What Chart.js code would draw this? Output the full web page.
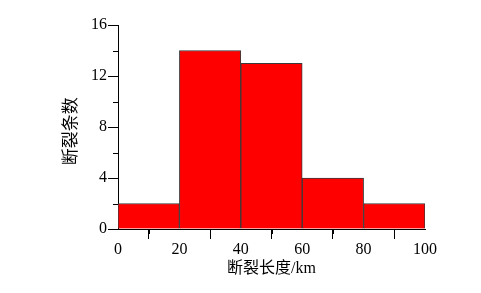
<!DOCTYPE html>
<html>
<head>
<meta charset="utf-8">
<script src="https://cdn.jsdelivr.net/npm/chart.js@4"></script>
<style>
    html, body { margin: 0; padding: 0; background: #fff; }
    canvas { display: block; }
</style>
</head>
<body>
<canvas id="histChart" width="481" height="293"></canvas>
<script>
const binEdges = [0, 20, 40, 60, 80, 100];
const counts = [2, 14, 13, 4, 2];
const xTitle = '断裂长度/km';
const yTitle = '断裂条数\u2002';

const FONT = '"Liberation Serif", "Times New Roman", "Noto Sans CJK SC", serif';

// bar centres from the bin edges
const points = counts.map((c, i) => ({ x: (binEdges[i] + binEdges[i + 1]) / 2, y: c }));

// short ticks halfway between the labelled ones
const minorTicks = {
    id: 'minorTicks',
    afterDraw(chart) {
        const ctx = chart.ctx;
        const x = chart.scales.x;
        const y = chart.scales.y;
        ctx.save();
        ctx.strokeStyle = '#000';
        ctx.lineWidth = 1;
        ctx.beginPath();
        for (let v = 10; v < 100; v += 20) {
            const px = Math.round(x.getPixelForValue(v)) + 0.5;
            ctx.moveTo(px, x.top);
            ctx.lineTo(px, x.top + 5);
        }
        for (let v = 2; v < 16; v += 4) {
            const py = Math.round(y.getPixelForValue(v)) + 0.5;
            ctx.moveTo(y.right, py);
            ctx.lineTo(y.right - 5, py);
        }
        ctx.stroke();
        ctx.restore();
    }
};

const ctx = document.getElementById('histChart').getContext('2d');
new Chart(ctx, {
    type: 'bar',
    data: {
        datasets: [{
            data: points,
            backgroundColor: '#ff0000',
            borderColor: '#3a3a3a',
            borderWidth: 1,
            barPercentage: 1,
            categoryPercentage: 1,
        }]
    },
    options: {
        responsive: false,
        animation: false,
        layout: {
            padding: { top: 25, right: 56, left: 0, bottom: 0 }
        },
        plugins: {
            legend: { display: false },
            tooltip: { enabled: false },
        },
        scales: {
            x: {
                type: 'linear',
                min: 0,
                max: 100,
                offset: false,
                afterFit: (s) => { s.height = 64; },
                border: { display: true, color: '#000', width: 1 },
                grid: { drawOnChartArea: false, drawTicks: true, tickLength: 10, color: '#000' },
                ticks: {
                    stepSize: 20,
                    padding: 1,
                    color: '#000',
                    font: { family: FONT, size: 16 },
                },
                title: {
                    display: true,
                    text: xTitle,
                    color: '#000',
                    font: { family: FONT, size: 16 },
                    padding: { top: 0, bottom: 15 },
                },
            },
            y: {
                min: 0,
                max: 16,
                afterFit: (s) => { s.width = 118; },
                border: { display: true, color: '#000', width: 1 },
                grid: { drawOnChartArea: false, drawTicks: true, tickLength: 10, color: '#000' },
                ticks: {
                    stepSize: 4,
                    padding: 1,
                    color: '#000',
                    font: { family: FONT, size: 16 },
                },
                title: {
                    display: true,
                    text: yTitle,
                    color: '#000',
                    font: { family: FONT, size: 17 },
                    padding: { top: 61, bottom: 0 },
                },
            },
        },
    },
    plugins: [minorTicks],
});
</script>
</body>
</html>
